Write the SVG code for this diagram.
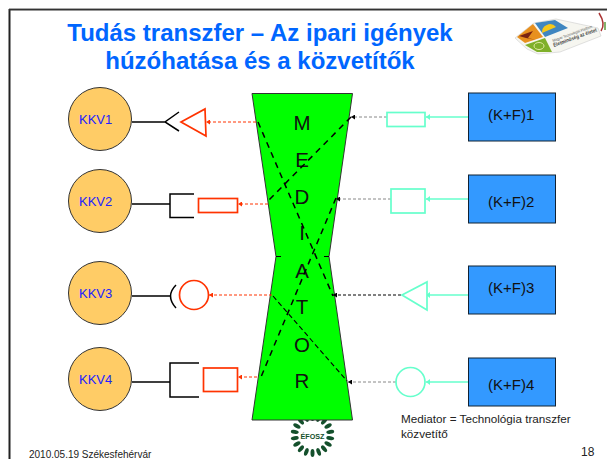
<svg xmlns="http://www.w3.org/2000/svg" xmlns:xlink="http://www.w3.org/1999/xlink" width="607" height="459" viewBox="0 0 607 459">
<style>
text{font-family:"Liberation Sans",Arial,sans-serif}
.title{font-size:24px;font-weight:bold;fill:#0066ff;text-anchor:middle}
.kkv{fill:#ffcc66;stroke:#333;stroke-width:1}
.kl{font-size:13px;fill:#2222ff}
.kf{fill:#3399ff;stroke:#123;stroke-width:1}
.kt{font-size:15px;fill:#111}
.m{font-size:20.500px;fill:#111;text-anchor:middle}
.bk{fill:none;stroke:#000;stroke-width:1.5}
.red{fill:#fff;stroke:#ff3300;stroke-width:1.7}
.aq{fill:#fff;stroke:#66ffcc;stroke-width:1.7}
.rd{stroke:#ff3300;stroke-width:1;stroke-dasharray:3 2;fill:none;marker-end:url(#ar)}
.aql{stroke:#66ffcc;stroke-width:1.5;fill:none;marker-end:url(#aa)}
.gd{stroke:#888;stroke-width:1;stroke-dasharray:3 2;fill:none;marker-end:url(#ab)}
.kd{stroke:#000;stroke-width:1;stroke-dasharray:3 2;fill:none;marker-end:url(#ab)}
.x{stroke:#000;stroke-width:1.500;stroke-dasharray:6 5;fill:none}
.xt{stroke:#000;stroke-width:1.100;stroke-dasharray:5 3;fill:none}
.lf{fill:#14502c}
</style>
<defs>
<marker id="ar" markerWidth="5" markerHeight="5" refX="4" refY="2.5" orient="auto" markerUnits="userSpaceOnUse"><path d="M0 0L4 2.5L0 5z" fill="#ff3300"/></marker>
<marker id="aa" markerWidth="5" markerHeight="6" refX="4" refY="3" orient="auto" markerUnits="userSpaceOnUse"><path d="M0 0L4 3L0 6z" fill="#66ffcc"/></marker>
<marker id="ab" markerWidth="5" markerHeight="5" refX="4" refY="2.5" orient="auto" markerUnits="userSpaceOnUse"><path d="M0 0L4 2.5L0 5z" fill="#000"/></marker>
<ellipse id="leaf" class="lf" cx="0" cy="-18" rx="2" ry="4"/>
</defs>
<rect width="607" height="459" fill="#fff"/>
<path d="M9.500 9V459" stroke="#222" stroke-width="2"/>
<path d="M9 8.500H607" stroke="#aaa" stroke-width="1"/>
<path d="M9 9.800H607" stroke="#333" stroke-width="1.600"/>
<text class="title" x="260" y="40.500">Tudás transzfer – Az ipari igények</text>
<text class="title" x="260" y="69">húzóhatása és a közvetítők</text>
<g id="logo">
<path d="M515 38L534 23L556 19L598 28L601 36L560 52L538 54L527 49Z" fill="#f6f6f0" stroke="#ccc" stroke-width=".6"/>
<path d="M517 37L533 24L543 37L525 43Z" fill="#e8901e"/>
<path d="M519 36L533 31L528 38L536 40L526 38Z" fill="#7a2412"/>
<path d="M535 23L555 20L568 28L545 37Z" fill="#3f86c0"/>
<path d="M542 33A8 8 0 0 1 556 27Z" fill="#f5c71a"/>
<path d="M525 45L545 38L552 52L537 52Z" fill="#7fb02a"/>
<ellipse cx="539" cy="46" rx="5" ry="3.500" fill="none" stroke="#dfe8a0" stroke-width="1"/>
<text x="553" y="42" font-size="3.800" fill="#555" transform="rotate(-20 553 42)" textLength="42" lengthAdjust="spacingAndGlyphs">Magyar Technológiai Platform</text>
<text x="554" y="47" font-size="5.200" font-weight="bold" fill="#444" transform="rotate(-20 554 47)" textLength="46" lengthAdjust="spacingAndGlyphs">Életminőség az életet</text>
<path d="M599 13Q606 24 601 31" fill="none" stroke="#a33" stroke-width="1.500"/>
<path d="M605 22V30" stroke="#5a9a3a" stroke-width="1.500"/>
</g>
<g id="efosz">
<g transform="translate(312.500 435)">
<use xlink:href="#leaf" href="#leaf" transform="rotate(0)"/><use xlink:href="#leaf" href="#leaf" transform="rotate(20)"/><use xlink:href="#leaf" href="#leaf" transform="rotate(40)"/><use xlink:href="#leaf" href="#leaf" transform="rotate(60)"/><use xlink:href="#leaf" href="#leaf" transform="rotate(80)"/><use xlink:href="#leaf" href="#leaf" transform="rotate(100)"/><use xlink:href="#leaf" href="#leaf" transform="rotate(120)"/><use xlink:href="#leaf" href="#leaf" transform="rotate(140)"/><use xlink:href="#leaf" href="#leaf" transform="rotate(160)"/><use xlink:href="#leaf" href="#leaf" transform="rotate(180)"/><use xlink:href="#leaf" href="#leaf" transform="rotate(200)"/><use xlink:href="#leaf" href="#leaf" transform="rotate(220)"/><use xlink:href="#leaf" href="#leaf" transform="rotate(240)"/><use xlink:href="#leaf" href="#leaf" transform="rotate(260)"/><use xlink:href="#leaf" href="#leaf" transform="rotate(280)"/><use xlink:href="#leaf" href="#leaf" transform="rotate(300)"/><use xlink:href="#leaf" href="#leaf" transform="rotate(320)"/><use xlink:href="#leaf" href="#leaf" transform="rotate(340)"/>
</g>
<text x="312.500" y="439" font-size="7" fill="#14502c" text-anchor="middle" font-weight="bold" textLength="24" lengthAdjust="spacingAndGlyphs">ÉFOSZ</text>
</g>
<g id="mediator">
<path d="M252 93.500H352.500L329 256.500L352.500 420H252L276 256.500Z" fill="#00ff00" stroke="#333" stroke-width="1"/>
<path d="M276 256.500h5M329 256.500h-5" stroke="#000"/>
<text class="m" x="302" y="130">M</text>
<text class="m" x="302" y="167">E</text>
<text class="m" x="302" y="204">D</text>
<text class="m" x="302" y="240">I</text>
<text class="m" x="302" y="278">A</text>
<text class="m" x="302" y="314">T</text>
<text class="m" x="302" y="352">O</text>
<text class="m" x="302" y="388">R</text>
</g>
<g id="connectors">
<path class="x" d="M258 122L333 296"/>
<path class="x" d="M351 117L268 201"/>
<path class="x" d="M336 198L261 377"/>
<path class="xt" d="M273 296L347 381"/>
<path class="rd" d="M256 122H206"/>
<path class="rd" d="M268 204H238"/>
<path class="rd" d="M272 295H209"/>
<path class="rd" d="M257 377H238"/>
<path class="aql" d="M468 117H426"/>
<path class="aql" d="M468 199H426"/>
<path class="aql" d="M468 295H426"/>
<path class="aql" d="M468 382H426"/>
<path class="gd" d="M387 117H351"/>
<path class="gd" d="M391 199H336"/>
<path class="kd" d="M401 295H333"/>
<path class="gd" d="M396 382H348"/>
</g>
<g id="kkv1"><circle class="kkv" cx="100" cy="119" r="31.500"/><text class="kl" x="79" y="124">KKV1</text>
<path class="bk" d="M132 122H165M179 112L165 122L179 131"/>
<path class="red" d="M181 122L205 109L206 136Z"/></g>
<g id="kkv2"><circle class="kkv" cx="100" cy="201" r="31.500"/><text class="kl" x="79" y="206">KKV2</text>
<path class="bk" d="M132 204H170M194 194H170V217.500H194"/>
<rect class="red" x="198.500" y="198.500" width="39" height="14"/></g>
<g id="kkv3"><circle class="kkv" cx="100" cy="293" r="31.500"/><text class="kl" x="79" y="298">KKV3</text>
<path class="bk" d="M132 296H170M176 285Q165 296 176 308"/>
<circle class="red" cx="194" cy="295" r="14.500"/></g>
<g id="kkv4"><circle class="kkv" cx="100" cy="379" r="31.500"/><text class="kl" x="79" y="384">KKV4</text>
<path class="bk" d="M132 382H170M199 363H170V397H199"/>
<rect class="red" x="203.500" y="368" width="34" height="23.500"/></g>
<g id="kf1"><rect class="kf" x="468.500" y="93" width="87" height="48"/><text class="kt" x="488" y="120">(K+F)1</text>
<rect class="aq" x="387" y="112.500" width="38" height="14"/></g>
<g id="kf2"><rect class="kf" x="468.500" y="175" width="87" height="48"/><text class="kt" x="488" y="207">(K+F)2</text>
<rect class="aq" x="391" y="189" width="34" height="24"/></g>
<g id="kf3"><rect class="kf" x="468.500" y="266" width="87" height="48"/><text class="kt" x="488" y="293">(K+F)3</text>
<path class="aq" d="M402 295L427 282L427 310Z"/></g>
<g id="kf4"><rect class="kf" x="468.500" y="358" width="87" height="48"/><text class="kt" x="488" y="390">(K+F)4</text>
<circle class="aq" cx="410.500" cy="382" r="14.500"/></g>
<text x="401" y="423" font-size="11.700" fill="#222">Mediator = Technológia transzfer</text>
<text x="401" y="438" font-size="11.700" fill="#222">közvetítő</text>
<text x="29" y="458" font-size="10" fill="#222">2010.05.19 Székesfehérvár</text>
<text x="581" y="456" font-size="12" fill="#222">18</text>
</svg>
